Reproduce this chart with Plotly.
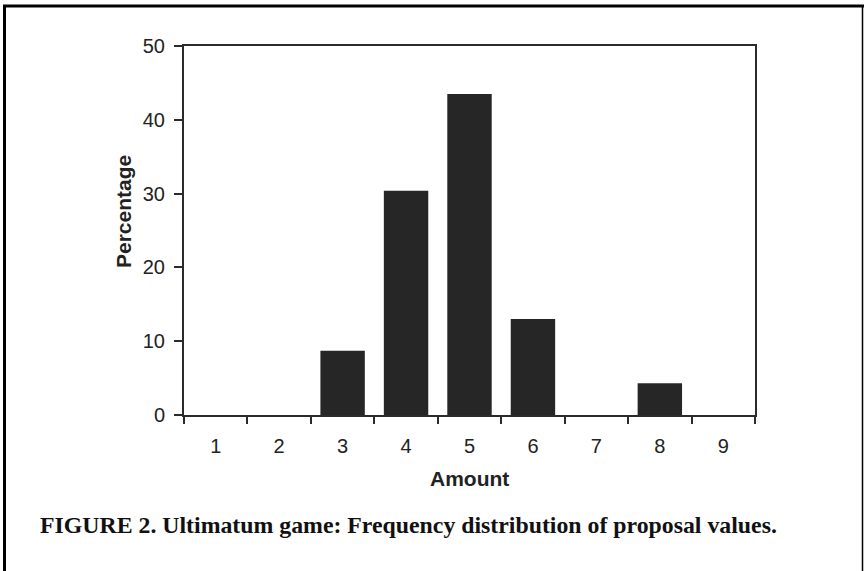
import plotly.graph_objects as go

amounts = ["1", "2", "3", "4", "5", "6", "7", "8", "9"]
percentages = [0, 0, 8.7, 30.4, 43.5, 13.0, 0, 4.3, 0]
y_ticks = [0, 10, 20, 30, 40, 50]

W, H = 864, 571
L, R, T, B = 184, 755, 46, 415

def px(x):
    return (x - L) / (R - L)

def py(y):
    return (B - y) / (B - T)

fig = go.Figure(go.Bar(
    x=amounts, y=percentages,
    marker=dict(color="#262626", line=dict(width=0)),
    width=0.7,
))

axis_col = "#2b2b2b"
fig.update_layout(
    width=W, height=H,
    margin=dict(l=L, r=W - R, t=T, b=H - B, pad=0),
    paper_bgcolor="white", plot_bgcolor="white",
    showlegend=False,
    font=dict(family="Liberation Sans, Arial, sans-serif", size=20, color="#222"),
    xaxis=dict(
        type="category", tickson="boundaries",
        showline=True, linecolor=axis_col, linewidth=2, mirror=True,
        ticks="outside", ticklen=7, tickwidth=2, tickcolor=axis_col,
        showgrid=False, zeroline=False,
        tickfont=dict(size=20),
        ticklabelstandoff=12,
    ),
    yaxis=dict(
        range=[0, 50], tickvals=y_ticks,
        showline=True, linecolor=axis_col, linewidth=2, mirror=True,
        ticks="outside", ticklen=8, tickwidth=2, tickcolor=axis_col,
        showgrid=False, zeroline=False,
        tickfont=dict(size=20),
        ticklabelstandoff=5,
    ),
    annotations=[
        dict(text="<b>Percentage</b>", textangle=-90, xref="paper", yref="paper",
             x=px(123), y=py(212), xanchor="center", yanchor="middle",
             showarrow=False, font=dict(size=21, color="#222")),
        dict(text="<b>Amount</b>", xref="paper", yref="paper",
             x=px(469.5), y=py(478), xanchor="center", yanchor="middle",
             showarrow=False, font=dict(size=21, color="#222")),
        dict(text="<b>FIGURE 2. Ultimatum game: Frequency distribution of proposal values.</b>",
             xref="paper", yref="paper", x=px(38), y=py(525),
             xanchor="left", yanchor="middle", showarrow=False,
             font=dict(family="Liberation Serif, Times New Roman, serif", size=23.8, color="#111")),
    ],
    shapes=[
        dict(type="line", xref="paper", yref="paper", x0=px(4.5), x1=px(4.5), y0=py(5), y1=py(580),
             line=dict(color="black", width=3)),
        dict(type="line", xref="paper", yref="paper", x0=px(3), x1=px(864), y0=py(6), y1=py(6),
             line=dict(color="black", width=3)),
        dict(type="line", xref="paper", yref="paper", x0=px(862.5), x1=px(862.5), y0=py(5), y1=py(580),
             line=dict(color="black", width=1.5)),
    ],
)

fig.write_html("out.html", config={"displayModeBar": False},
               post_script="document.body.style.margin='0';document.body.style.overflow='hidden';")
